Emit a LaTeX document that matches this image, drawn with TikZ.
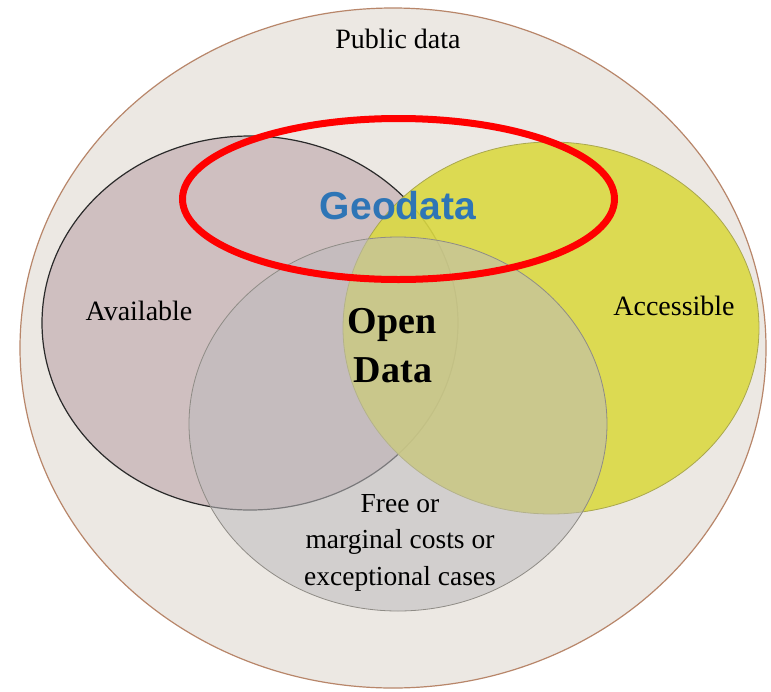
\documentclass[tikz,border=0pt]{standalone}
\usepackage{fontspec}
\setmainfont{Liberation Serif}
\newfontfamily\geofont{Liberation Sans}
\definecolor{bgfill}{HTML}{ECE8E3}
\definecolor{bgline}{HTML}{B8866A}
\definecolor{availfill}{HTML}{CFBFC0}
\definecolor{availline}{HTML}{2A2A2A}
\definecolor{accfill}{HTML}{DBD943}
\definecolor{accline}{HTML}{A9A74E}
\definecolor{freefill}{HTML}{BDBBBE}
\definecolor{freeline}{HTML}{8F8C86}
\definecolor{geored}{HTML}{FF0000}
\definecolor{geoblue}{HTML}{2E75B6}
\tikzset{
  lbl/.style={anchor=base, inner sep=0pt, text=black, font=\fontsize{28}{34}\selectfont},
  bigbold/.style={anchor=base, inner sep=0pt, text=black, font=\fontsize{38}{49}\selectfont\bfseries},
  geolbl/.style={anchor=base, inner sep=0pt, text=geoblue, font=\geofont\fontsize{39}{47}\selectfont\bfseries}
}
\begin{document}
\begin{tikzpicture}[x=1pt,y=-1pt]
\useasboundingbox (0,0) rectangle (771,691);
\fill[white] (0,0) rectangle (771,691);
% outer set
\coordinate (pubc) at (393,348);
\filldraw[fill=bgfill, draw=bgline, line width=1.2pt] (pubc) ellipse [x radius=373, y radius=340];
% Available
\coordinate (avc) at (250,323);
\filldraw[fill=availfill, draw=availline, line width=1.2pt] (avc) ellipse [x radius=208, y radius=187];
% Accessible
\coordinate (acc) at (551,328);
\fill[accfill, opacity=0.9] (acc) ellipse [x radius=208, y radius=186];
\draw[accline, line width=0.8pt] (acc) ellipse [x radius=208, y radius=186];
% Free
\coordinate (frc) at (398,424);
\fill[freefill, opacity=0.55] (frc) ellipse [x radius=209, y radius=187];
\draw[freeline, line width=0.8pt] (frc) ellipse [x radius=209, y radius=187];
% Geodata ring
\coordinate (geoc) at (398.5,199);
\draw[geored, line width=7pt] (geoc) ellipse [x radius=216, y radius=80.5];
% labels
\node[lbl] (pub) at (398,48) {Public data};
\node[lbl] (avail) at (139,320) {Available};
\node[lbl] (access) at (674,315) {Accessible};
\node[bigbold] (open1) at (392,333) {Open};
\node[bigbold] (open2) at (393,382) {Data};
\node[lbl, font=\fontsize{27.5}{34}\selectfont] (free1) at (400,512) {Free or};
\node[lbl, font=\fontsize{27.5}{34}\selectfont] (free2) at (400,548) {marginal costs or};
\node[lbl, font=\fontsize{27.5}{34}\selectfont] (free3) at (400,585) {exceptional cases};
\node[geolbl] (geo) at (398,219) {Geodata};
\end{tikzpicture}
\end{document}
